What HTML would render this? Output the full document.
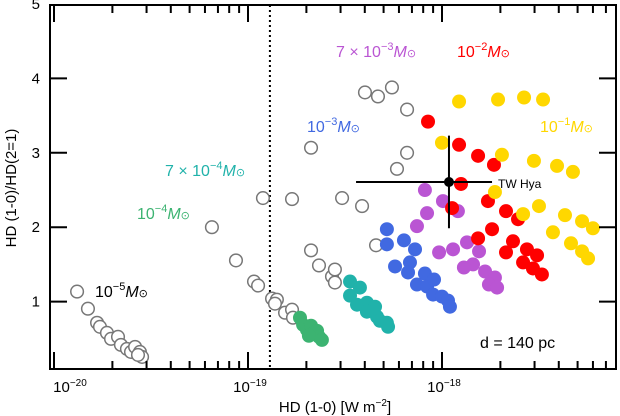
<!DOCTYPE html>
<html><head><meta charset="utf-8"><style>
body{margin:0;background:#fff}
svg{display:block;font-family:"Liberation Sans","DejaVu Sans",sans-serif}
</style></head><body>
<svg id="chart" width="620" height="416" viewBox="0 0 620 416">
<g id="marks"></g>
<g id="axes"></g>
<g font-size="16">
<text x="95" y="297" fill="#000">10<tspan dy="-7" font-size="11">−5</tspan><tspan dy="7" font-style="italic">M</tspan><tspan font-size="11">⊙</tspan></text>
<text x="137" y="219" fill="#3cb371">10<tspan dy="-7" font-size="11">−4</tspan><tspan dy="7" font-style="italic">M</tspan><tspan font-size="11">⊙</tspan></text>
<text x="165" y="176" fill="#20b2aa">7 × 10<tspan dy="-7" font-size="11">−4</tspan><tspan dy="7" font-style="italic">M</tspan><tspan font-size="11">⊙</tspan></text>
<text x="307" y="132" fill="#4169e1">10<tspan dy="-7" font-size="11">−3</tspan><tspan dy="7" font-style="italic">M</tspan><tspan font-size="11">⊙</tspan></text>
<text x="336" y="57" fill="#ba55d3">7 × 10<tspan dy="-7" font-size="11">−3</tspan><tspan dy="7" font-style="italic">M</tspan><tspan font-size="11">⊙</tspan></text>
<text x="457" y="57" fill="#ff0000">10<tspan dy="-7" font-size="11">−2</tspan><tspan dy="7" font-style="italic">M</tspan><tspan font-size="11">⊙</tspan></text>
<text x="540" y="132" fill="#ffd700">10<tspan dy="-7" font-size="11">−1</tspan><tspan dy="7" font-style="italic">M</tspan><tspan font-size="11">⊙</tspan></text>
<text x="480" y="348" fill="#000">d = 140 pc</text>
<text x="498" y="188" font-size="12" fill="#000">TW Hya</text>
<text x="335" y="412" text-anchor="middle" font-size="15">HD (1-0) [W m<tspan dy="-6" font-size="10">−2</tspan><tspan dy="6">]</tspan></text>
<text x="0" y="0" transform="translate(16,188) rotate(-90)" text-anchor="middle" font-size="15">HD (1-0)/HD(2=1)</text>
</g>
</svg>
<script>
// log10 of HD(1-0) flux and line ratio for each model series
const openX=[-19.881,-19.825,-19.778,-19.763,-19.727,-19.706,-19.67,-19.655,-19.624,-19.603,-19.582,-19.557,-19.546,-19.567,-19.186,-19.062,-18.969,-18.948,-18.923,-18.876,-18.851,-18.861,-18.809,-18.773,-18.768,-18.773,-18.675,-18.675,-18.634,-18.567,-18.552,-18.552,-18.515,-18.412,-18.34,-18.397,-18.33,-18.258,-18.18,-18.18,-18.232];
const openY=[1.135,0.905,0.716,0.662,0.581,0.5,0.527,0.419,0.365,0.324,0.392,0.324,0.257,0.284,2.0,1.554,1.27,1.216,2.392,1.041,1.027,0.973,0.851,0.892,0.784,2.378,3.068,1.689,1.486,1.338,1.432,1.257,2.392,2.284,1.757,3.811,3.757,3.878,3.581,3.0,2.784];
const greenX=[-18.732,-18.716,-18.696,-18.675,-18.665,-18.644,-18.634,-18.619,-18.686];
const greenY=[0.784,0.689,0.622,0.676,0.568,0.608,0.527,0.486,0.541];
const tealX=[-18.474,-18.423,-18.474,-18.438,-18.387,-18.345,-18.387,-18.335,-18.32,-18.284,-18.278];
const tealY=[1.27,1.189,1.081,0.959,0.986,0.932,0.865,0.797,0.743,0.716,0.662];
const blueX=[-18.284,-18.284,-18.196,-18.139,-18.242,-18.165,-18.175,-18.088,-18.129,-18.077,-18.041,-18.046,-18.0,-17.969,-17.959];
const blueY=[1.973,1.77,1.824,1.703,1.473,1.527,1.392,1.378,1.23,1.203,1.297,1.095,1.068,1.014,0.932];
const purpleX=[-18.088,-17.995,-18.077,-18.129,-17.918,-18.015,-17.943,-17.871,-17.809,-17.84,-17.887,-17.778,-17.727,-17.758,-17.716];
const purpleY=[2.5,2.351,2.189,2.014,2.216,1.662,1.703,1.797,1.676,1.5,1.459,1.405,1.324,1.23,1.189];
const redX=[-18.072,-17.912,-17.814,-17.732,-17.902,-17.763,-17.948,-17.67,-17.608,-17.742,-17.814,-17.634,-17.562,-17.67,-17.51,-17.582,-17.531,-17.485];
const redY=[3.419,3.108,2.959,2.838,2.581,2.351,2.257,2.216,2.108,1.973,1.851,1.811,1.703,1.662,1.622,1.527,1.446,1.365];
const yellowX=[-17.912,-17.711,-17.577,-17.479,-18.0,-17.691,-17.526,-17.407,-17.325,-17.727,-17.5,-17.582,-17.366,-17.278,-17.222,-17.428,-17.335,-17.278,-17.247];
const yellowY=[3.689,3.716,3.743,3.716,3.135,2.973,2.892,2.824,2.743,2.473,2.284,2.176,2.162,2.081,1.986,1.932,1.784,1.676,1.581];
const twHya=[-17.964,2.608];
const twHyaXErr=[-18.443,-17.742];
const twHyaYErr=[1.986,3.23];
const limitX=-18.887;
const yTicks=[1,2,3,4,5];
const xDecades=[-20,-19,-18];
const xDecadeLabels=["−20","−19","−18"];

const NS="http://www.w3.org/2000/svg";
const L=50,R=616,T=5,B=369;
const X0=-20.0206,X1=-17.103,Y0=0.095,Y1=4.986;
const sx=v=>L+(v-X0)/(X1-X0)*(R-L);
const sy=v=>B-(v-Y0)/(Y1-Y0)*(B-T);
const marks=document.getElementById('marks'),axes=document.getElementById('axes');
function mk(tag,attrs,parent){const e=document.createElementNS(NS,tag);for(const k in attrs)e.setAttribute(k,attrs[k]);parent.appendChild(e);return e;}

const vl=mk('line',{x1:sx(limitX),x2:sx(limitX),y1:T,y2:B,stroke:'#000','stroke-width':2,'stroke-dasharray':'2,3'},marks);



function series(xs,ys,name,fill,stroke){
  const g=mk('g',{},marks);
  
  
  xs.forEach((x,i)=>{
    const c=mk('circle',{cx:sx(x),cy:sy(ys[i]),r:stroke?6.3:7,fill:fill,stroke:stroke||'none','stroke-width':1.5},g);
    
    
  });
}
series(openX,openY,'no-grain-model','#fff','#777');
series(greenX,greenY,'mass-1e-4','#3cb371');
series(tealX,tealY,'mass-7e-4','#20b2aa');
series(blueX,blueY,'mass-1e-3','#4169e1');
series(purpleX,purpleY,'mass-7e-3','#ba55d3');
series(redX,redY,'mass-1e-2','#ff0000');
series(yellowX,yellowY,'mass-1e-1','#ffd700');

const eh=mk('line',{x1:sx(twHyaXErr[0]),x2:sx(twHyaXErr[1]),y1:sy(twHya[1]),y2:sy(twHya[1]),stroke:'#000','stroke-width':2},marks);


const ev=mk('line',{x1:sx(twHya[0]),x2:sx(twHya[0]),y1:sy(twHyaYErr[0]),y2:sy(twHyaYErr[1]),stroke:'#000','stroke-width':2},marks);


const tp=mk('circle',{cx:sx(twHya[0]),cy:sy(twHya[1]),r:5,fill:'#000'},marks);



const frame=mk('rect',{x:L,y:T,width:R-L,height:B-T,fill:'none',stroke:'#000','stroke-width':2},axes);


function tick(x1,y1,x2,y2){const t=mk('line',{x1,y1,x2,y2,stroke:'#000','stroke-width':2},axes);
  
  }
yTicks.forEach(v=>{
  const y=sy(v);
  if(v<5){tick(L,y,L+17,y);tick(R,y,R-17,y);}
  const t=mk('text',{x:40,y:y+5,'text-anchor':'end','font-size':15},axes);t.textContent=v;
  
  
});
for(let d=-20;d<=-18;d++){
  for(let m=1;m<10;m++){
    const v=d+Math.log10(m); if(v<X0||v>X1) continue;
    const x=sx(v),len=m===1?17:8;
    tick(x,B,x,B-len);tick(x,T,x,T+len);
  }
}
xDecades.forEach((d,i)=>{
  const x=sx(d);
  const t=mk('text',{x:x+(d===-20?16:2),y:392,'text-anchor':'middle','font-size':15},axes);
  
  
  t.innerHTML='10<tspan dy="-6" font-size="10">'+xDecadeLabels[i]+'</tspan>';
});
</script>
</body></html>
